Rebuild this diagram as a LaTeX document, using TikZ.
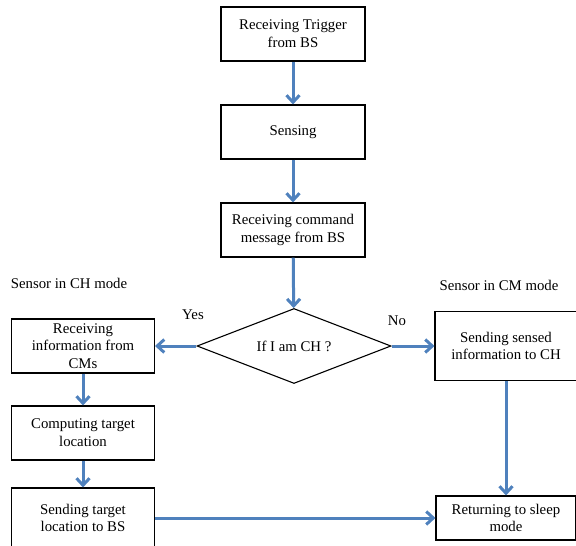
\documentclass[tikz,border=0pt]{standalone}
\usepackage{fontspec}
\setmainfont{Liberation Serif}
\usetikzlibrary{shapes.geometric, arrows.meta}

\definecolor{arrowblue}{RGB}{79,129,189}

\tikzset{
    box/.style={draw, line width=1.1pt, minimum width=144pt, minimum height=54pt, align=center, inner sep=2pt},
    flow/.style={-{Straight Barb[length=7pt,width=13pt]}, line width=3pt, arrowblue}
}

\begin{document}
\begin{tikzpicture}[x=1pt, y=-1pt, font=\fontsize{14.8}{17.8}\selectfont]
    \useasboundingbox (0,0) rectangle (576,546);

    % Main column
    \node[box] (trig) at (293, 34) {Receiving Trigger\\from BS};
    \node[box] (sens) at (293, 132) {Sensing};
    \node[box] (cmd) at (293, 230) {Receiving command\\message from BS};
    \node[draw, diamond, aspect=2.6, line width=1.1pt, minimum width=194pt, minimum height=75pt, inner sep=0pt] (cond) at (294, 346) {If I am CH ?};

    % CH mode
    \node (chmode) at (69, 283) {Sensor in CH mode};
    \node (yes) at (193, 315) {Yes};
    \node[box, minimum width=143pt] (recv) at (83, 346) {Receiving\\information from\\CMs};
    \node[box, minimum width=143pt] (comp) at (83, 433) {Computing target\\location};
    \node[box, minimum width=143pt, minimum height=60pt] (send) at (83, 518) {Sending target\\location to BS};

    % CM mode
    \node (cmmode) at (499, 285) {Sensor in CM mode};
    \node (no) at (397, 321) {No};
    \node[box, minimum width=142pt, minimum height=69pt] (sinfo) at (506, 346) {Sending sensed\\information to CH};
    \node[box, minimum width=140pt, minimum height=44pt] (sleep) at (506, 518) {Returning to sleep\\mode};

    % Arrows
    \draw[flow] (trig) -- (sens);
    \draw[flow] (sens) -- (cmd);
    \draw[flow] (cmd) -- (cond);
    \draw[flow] (cond) -- (recv);
    \draw[flow] (cond) -- (sinfo);
    \draw[flow] (recv) -- (comp);
    \draw[flow] (comp) -- (send);
    \draw[flow] (sinfo) -- (sleep);
    \draw[flow] (send) -- (sleep);
\end{tikzpicture}
\end{document}
